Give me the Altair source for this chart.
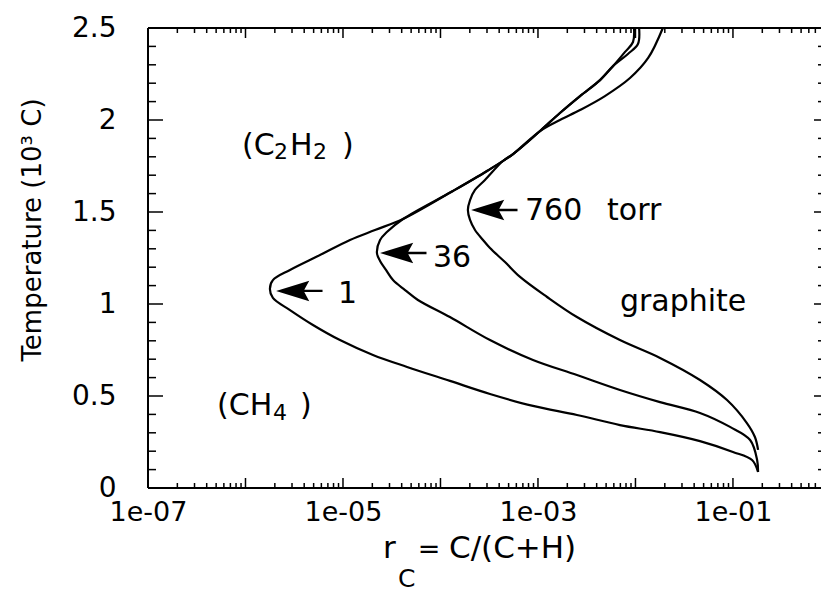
import altair as alt
import pandas as pd

# ---------------- data ----------------
# 1 torr
p1_r = [0.181, 0.157, 0.100, 0.0459, 0.01787, 0.00693, 0.00251, 0.000889, 0.000322, 0.000125,
        4.54e-5, 2.03e-5, 9.31e-6, 4.92e-6, 2.86e-6, 1.91e-6, 1.78e-6, 1.91e-6, 2.86e-6, 5.81e-6,
        1.18e-5, 2.13e-5, 4.13e-5, 1.34e-4, 3.00e-4, 5.55e-4, 1.05e-3, 1.68e-3, 2.70e-3, 4.33e-3,
        5.89e-3, 7.82e-3, 9.44e-3, 9.66e-3]
p1_T = [0.087, 0.152, 0.196, 0.255, 0.304, 0.342, 0.397, 0.446, 0.511, 0.582,
        0.658, 0.723, 0.804, 0.886, 0.967, 1.033, 1.082, 1.130, 1.185, 1.266,
        1.348, 1.402, 1.462, 1.614, 1.723, 1.815, 1.940, 2.038, 2.130, 2.217,
        2.293, 2.370, 2.424, 2.5]
# 36 torr
p36_r = [0.181, 0.177, 0.150, 0.0933, 0.0459, 0.01787, 0.00693, 0.00251, 0.000889, 0.000322,
         1.25e-4, 5.87e-5, 4.33e-5, 3.26e-5, 2.76e-5, 2.40e-5, 2.23e-5, 2.40e-5, 2.82e-5, 4.13e-5,
         1.34e-4, 3.00e-4, 5.55e-4, 1.05e-3, 1.68e-3, 2.70e-3, 4.33e-3, 5.89e-3, 8.37e-3, 1.06e-2,
         1.09e-2]
p36_T = [0.087, 0.152, 0.261, 0.332, 0.408, 0.467, 0.533, 0.614, 0.696, 0.804,
         0.929, 1.022, 1.076, 1.130, 1.185, 1.234, 1.277, 1.348, 1.391, 1.462,
         1.614, 1.723, 1.815, 1.940, 2.038, 2.130, 2.217, 2.293, 2.359, 2.413,
         2.5]
# 760 torr
p760_r = [0.181, 0.168, 0.139, 0.0869, 0.0459, 0.01787, 0.00693, 0.00251, 1.24e-3, 6.55e-4,
          4.59e-4, 3.22e-4, 2.73e-4, 2.26e-4, 2.01e-4, 1.91e-4, 2.01e-4, 2.26e-4, 2.86e-4, 4.37e-4,
          5.55e-4, 1.05e-3, 1.68e-3, 2.70e-3, 4.86e-3, 8.79e-3, 1.35e-2, 1.91e-2]
p760_T = [0.207, 0.277, 0.353, 0.478, 0.587, 0.707, 0.804, 0.929, 1.038, 1.147,
          1.228, 1.304, 1.348, 1.402, 1.457, 1.511, 1.565, 1.620, 1.674, 1.777,
          1.815, 1.940, 2.000, 2.054, 2.130, 2.228, 2.337, 2.5]

x_label_values = [1e-7, 1e-5, 1e-3, 1e-1]
x_label_texts = ["1e-07", "1e-05", "1e-03", "1e-01"]
y_label_values = [0, 0.5, 1, 1.5, 2, 2.5]
y_label_texts = ["0", "0.5", "1", "1.5", "2", "2.5"]

# arrow tips (pointing at the curve noses)
arrow_r = [2.06e-6, 2.4e-5, 2.06e-4]
arrow_T = [1.071, 1.277, 1.511]

# labels in data space
lab_text = ["1", "36", "760", "torr", "graphite"]
lab_r = [8.89e-6, 8.38e-5, 7.36e-4, 5.11e-3, 6.93e-3]
lab_T = [1.005, 1.201, 1.457, 1.457, 0.962]

# ---------------- layout ----------------
W, H = 673, 460
FONT = "DejaVu Sans"
xs = alt.Scale(type="log", domain=[1e-7, 0.8], nice=False)
ys = alt.Scale(domain=[0, 2.5], nice=False, zero=False)

x_expr = " : ".join(f"abs(datum.value - {v:g}) < {v * 0.01:g} ? '{t}'"
                    for v, t in zip(x_label_values, x_label_texts)) + " : ''"
y_expr = " : ".join(f"abs(datum.value - {v:g}) < 0.01 ? '{t}'"
                    for v, t in zip(y_label_values, y_label_texts)) + " : ''"

xaxis = alt.Axis(values=x_label_values, labelExpr=x_expr, ticks=False, domain=False, grid=False,
                 labelFont=FONT, labelFontSize=27, labelColor="black", labelPadding=11,
                 labelFlush=False, labelOverlap=False, title=None)
yaxis = alt.Axis(values=y_label_values, labelExpr=y_expr, ticks=False, domain=False, grid=False,
                 labelFont=FONT, labelFontSize=28, labelColor="black", labelPadding=32,
                 labelFlush=False, labelOverlap=False, title=None)


def X():
    return alt.X("r:Q", scale=xs, axis=xaxis)


def Y():
    return alt.Y("T:Q", scale=ys, axis=yaxis)


rows = []
for name, rr, tt in [("1", p1_r, p1_T), ("36", p36_r, p36_T), ("760", p760_r, p760_T)]:
    for i, (a, b) in enumerate(zip(rr, tt)):
        rows.append({"p": name, "i": i, "r": a, "T": b})
curves = pd.DataFrame(rows)

layers = []
layers.append(
    alt.Chart(curves).mark_line(color="black", strokeWidth=2.2, interpolate="catmull-rom")
    .encode(x=X(), y=Y(), detail="p:N", order="i:Q")
)

# tick marks (drawn inward)
x_dec = [10.0 ** n for n in range(-7, 0)]
x_min = [k * 10.0 ** n for n in range(-7, 0) for k in range(2, 10) if k * 10.0 ** n < 0.8]
y_maj = [0.5, 1.0, 1.5, 2.0]
y_min = [i / 10 for i in range(1, 25) if i % 5]

dfx_dec = pd.DataFrame({"r": x_dec})
dfx_min = pd.DataFrame({"r": x_min})
dfy_maj = pd.DataFrame({"T": y_maj})
dfy_min = pd.DataFrame({"T": y_min})

tick = dict(color="black", strokeWidth=1.5)
layers += [
    alt.Chart(dfx_dec).mark_rule(**tick).encode(x=X(), y=alt.value(H), y2=alt.value(H - 10)),
    alt.Chart(dfx_min).mark_rule(**tick).encode(x=X(), y=alt.value(H), y2=alt.value(H - 5)),
    alt.Chart(dfx_dec).mark_rule(**tick).encode(x=X(), y=alt.value(0), y2=alt.value(10)),
    alt.Chart(dfx_min).mark_rule(**tick).encode(x=X(), y=alt.value(0), y2=alt.value(5)),
    alt.Chart(dfy_maj).mark_rule(**tick).encode(y=Y(), x=alt.value(0), x2=alt.value(15)),
    alt.Chart(dfy_min).mark_rule(**tick).encode(y=Y(), x=alt.value(0), x2=alt.value(8)),
    alt.Chart(dfy_maj).mark_rule(**tick).encode(y=Y(), x=alt.value(W), x2=alt.value(W - 7)),
    alt.Chart(dfy_min).mark_rule(**tick).encode(y=Y(), x=alt.value(W), x2=alt.value(W - 3)),
]

# frame (left, top, bottom)
one = pd.DataFrame({"a": [0]})
frame = dict(color="black", strokeWidth=2)
layers += [
    alt.Chart(one).mark_rule(**frame).encode(x=alt.value(0), y=alt.value(0), y2=alt.value(H)),
    alt.Chart(one).mark_rule(**frame).encode(x=alt.value(0), x2=alt.value(W), y=alt.value(0)),
    alt.Chart(one).mark_rule(**frame).encode(x=alt.value(0), x2=alt.value(W), y=alt.value(H)),
]

# arrows
ARROW = "M0,0 L2,-0.62 L1.7,-0.07 L2.8,-0.07 L2.8,0.07 L1.7,0.07 L2,0.62 Z"
layers.append(
    alt.Chart(pd.DataFrame({"r": arrow_r, "T": arrow_T}))
    .mark_point(shape=ARROW, size=1100, filled=True, color="black", opacity=1, strokeWidth=0)
    .encode(x=X(), y=Y())
)

# labels
layers.append(
    alt.Chart(pd.DataFrame({"r": lab_r, "T": lab_T, "s": lab_text}))
    .mark_text(align="left", baseline="alphabetic", font=FONT, fontSize=30, color="black")
    .encode(x=X(), y=Y(), text="s:N")
)


def piece(r, T, s, size, dx=0, dy=0):
    return (alt.Chart(pd.DataFrame({"r": [r], "T": [T], "s": [s]}))
            .mark_text(align="left", baseline="alphabetic", font=FONT, fontSize=size,
                       dx=dx, dy=dy, color="black")
            .encode(x=X(), y=Y(), text="s:N"))


# (C2H2) and (CH4)
c2h2_r, c2h2_T = 9.2e-7, 1.81
ch4_r, ch4_T = 5.11e-7, 0.397
layers += [
    piece(c2h2_r, c2h2_T, "(C", 30),
    piece(c2h2_r, c2h2_T, "2", 22, dx=32, dy=4),
    piece(c2h2_r, c2h2_T, "H", 30, dx=48),
    piece(c2h2_r, c2h2_T, "2", 22, dx=71, dy=4),
    piece(c2h2_r, c2h2_T, ")", 30, dx=100),
    piece(ch4_r, ch4_T, "(CH", 30),
    piece(ch4_r, ch4_T, "4", 22, dx=56, dy=5),
    piece(ch4_r, ch4_T, ")", 30, dx=83),
]


def ptxt(x, y, s, size, angle=0, align="left"):
    return (alt.Chart(pd.DataFrame({"s": [s]}))
            .mark_text(align=align, baseline="alphabetic", font=FONT, fontSize=size,
                       angle=angle, color="black")
            .encode(x=alt.value(x), y=alt.value(y), text="s:N"))


# axis titles
layers += [
    ptxt(235, 530, "r", 31),
    ptxt(250, 559, "C", 25),
    ptxt(281, 530, "=", 27, align="center"),
    ptxt(301, 530, "C/(C+H)", 31),
    ptxt(-107, 202, "Temperature (10³ C)", 26, angle=270, align="center"),
]

chart = alt.layer(*layers).properties(
    width=W, height=H,
    padding={"left": 148, "top": 28, "right": 0, "bottom": 104},
    autosize=alt.AutoSizeParams(type="none"),
    background="white",
).configure_view(stroke=None)

chart.save("out.html", embed_options={"renderer": "svg", "actions": False})
